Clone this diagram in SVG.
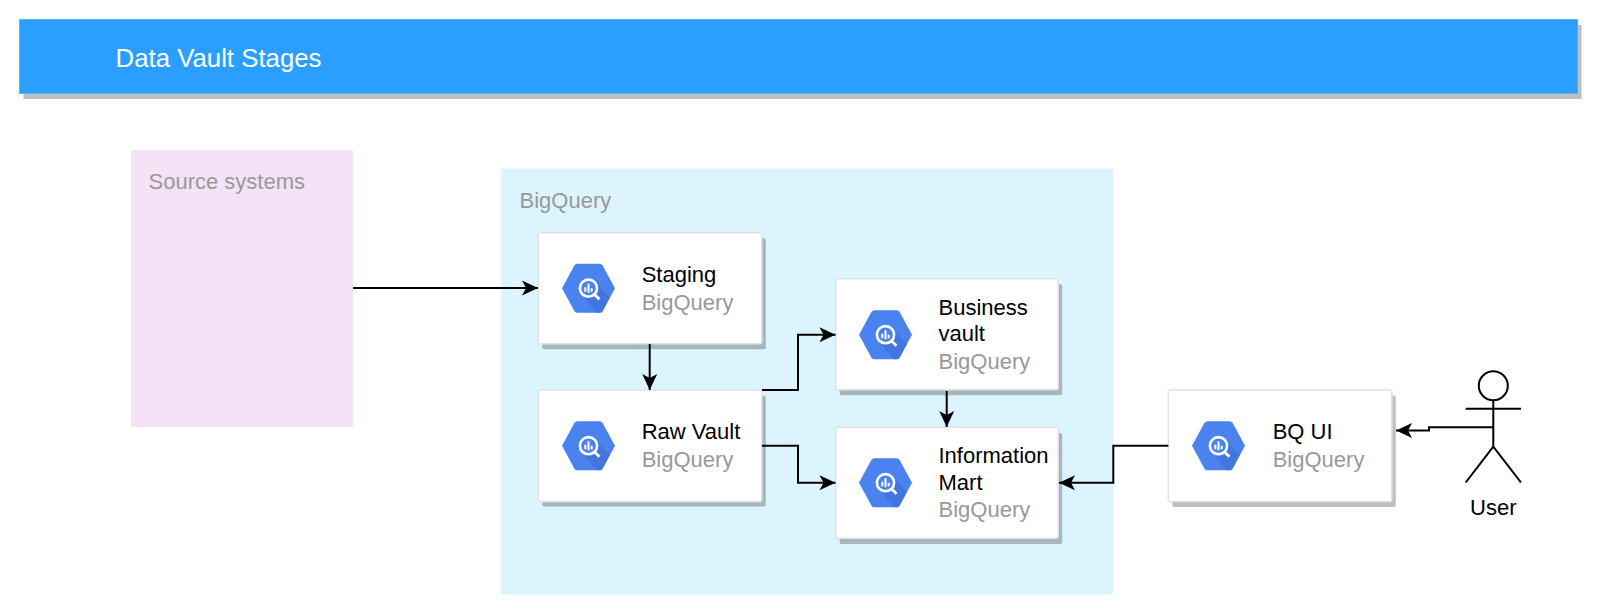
<svg xmlns="http://www.w3.org/2000/svg" xmlns:xlink="http://www.w3.org/1999/xlink" width="1600" height="614" viewBox="0 0 1600 614">
<style>
text{font-family:"Liberation Sans",Arial,sans-serif;font-size:22px;fill:#000}
.sub{fill:#999}
.shadow{fill:#000;opacity:.25}
.card{fill:#fff;stroke:#e2e2e2;stroke-width:1.5}
.edge{fill:none;stroke:#000;stroke-width:2;marker-end:url(#arrow)}
.actor{fill:none;stroke:#000;stroke-width:2}
</style>
<defs>
<marker id="arrow" markerUnits="userSpaceOnUse" markerWidth="18" markerHeight="18" refX="16" refY="9" orient="auto" overflow="visible">
<path d="M0,1.5 L16,9 L0,16.5 L4,9 Z" fill="#000"/>
</marker>
<g id="bq">
<path d="M-26.5,0 L-14,-23 Q-13,-24.5 -11,-24.5 L11,-24.5 Q13,-24.5 14,-23 L26.5,0 L14,23 Q13,24.5 11,24.5 L-11,24.5 Q-13,24.5 -14,23 Z" fill="#4a83ef"/>
<path d="M6.500,-6 L21.500,9 L14,23 Q13,24.500 11,24.500 L8,24.500 L-6,7 Z" fill="#4276de"/>
<circle cx="0" cy="0" r="8.600" fill="#4a83ef" stroke="#fff" stroke-width="2.600"/>
<path d="M6,6.200 L11,11" stroke="#fff" stroke-width="2.800" fill="none"/>
<path d="M-3.200,-1 V3.500 M0,-4.500 V4.500 M3.200,0 V3.500" stroke="#fff" stroke-width="2" fill="none"/>
</g>
</defs>

<g id="header">
<rect x="23.500" y="25" width="1558" height="74" class="shadow"/>
<rect x="19.500" y="19.500" width="1558" height="74" fill="#2a9fff" stroke="#55b3ff"/>
<text x="115.500" y="66.500" style="font-size:25.800px;fill:#fff">Data Vault Stages</text>
</g>

<g id="source-systems">
<rect x="131" y="150" width="222" height="277" fill="#f5e2f6"/>
<text x="148.500" y="189" class="sub">Source systems</text>
</g>

<g id="bigquery-group">
<rect x="501" y="168.500" width="612" height="426" fill="#dcf4fe"/>
<text x="519.500" y="208" class="sub">BigQuery</text>
</g>

<g id="staging">
<rect x="542.300" y="238.300" width="223.500" height="111" rx="2" class="shadow"/>
<rect x="538.300" y="232.700" width="223.500" height="111" rx="2" class="card"/>
<use xlink:href="#bq" href="#bq" x="588.500" y="288.200"/>
<text x="641.700" y="282">Staging</text>
<text x="641.700" y="310" class="sub">BigQuery</text>
</g>

<g id="raw-vault">
<rect x="542.300" y="395.600" width="223.500" height="111" rx="2" class="shadow"/>
<rect x="538.300" y="390" width="223.500" height="111.500" rx="2" class="card"/>
<use xlink:href="#bq" href="#bq" x="588.500" y="445.700"/>
<text x="641.700" y="439">Raw Vault</text>
<text x="641.700" y="467" class="sub">BigQuery</text>
</g>

<g id="business-vault">
<rect x="839.700" y="284.300" width="222.500" height="111" rx="2" class="shadow"/>
<rect x="835.700" y="278.700" width="222.500" height="111" rx="2" class="card"/>
<use xlink:href="#bq" href="#bq" x="885.500" y="334.700"/>
<text x="938.500" y="315">Business</text>
<text x="938.500" y="341">vault</text>
<text x="938.500" y="369" class="sub">BigQuery</text>
</g>

<g id="information-mart">
<rect x="839.700" y="432.900" width="222.500" height="111" rx="2" class="shadow"/>
<rect x="835.700" y="427.300" width="222.500" height="111" rx="2" class="card"/>
<use xlink:href="#bq" href="#bq" x="885.500" y="482.700"/>
<text x="938.500" y="463">Information</text>
<text x="938.500" y="489.500">Mart</text>
<text x="938.500" y="517" class="sub">BigQuery</text>
</g>

<g id="bq-ui">
<rect x="1172.300" y="395.600" width="223.500" height="111.500" rx="2" class="shadow"/>
<rect x="1168.300" y="390" width="223.500" height="111.500" rx="2" class="card"/>
<use xlink:href="#bq" href="#bq" x="1218.500" y="445.700"/>
<text x="1272.700" y="439">BQ UI</text>
<text x="1272.700" y="467" class="sub">BigQuery</text>
</g>

<g id="user">
<circle cx="1493.300" cy="385.700" r="14.500" fill="#fff" stroke="#000" stroke-width="2"/>
<path class="actor" d="M1493.300,400.200 V446.700 M1465.700,408.700 H1521 M1465.700,482.500 L1493.300,446.700 L1521,482.500"/>
<text x="1493.300" y="515" text-anchor="middle">User</text>
</g>

<g id="connectors">
<path class="edge" d="M353,288 H538"/>
<path class="edge" d="M649.700,344 V390"/>
<path class="edge" d="M762,390 H798 V334.700 H835.500"/>
<path class="edge" d="M762,445.700 H798 V482.700 H835.500"/>
<path class="edge" d="M946.700,391 V427"/>
<path class="edge" d="M1168.300,445.700 H1113.300 V482.700 H1059"/>
<path class="edge" d="M1493.300,427.300 H1429 V430.500 H1396"/>
</g>
</svg>
